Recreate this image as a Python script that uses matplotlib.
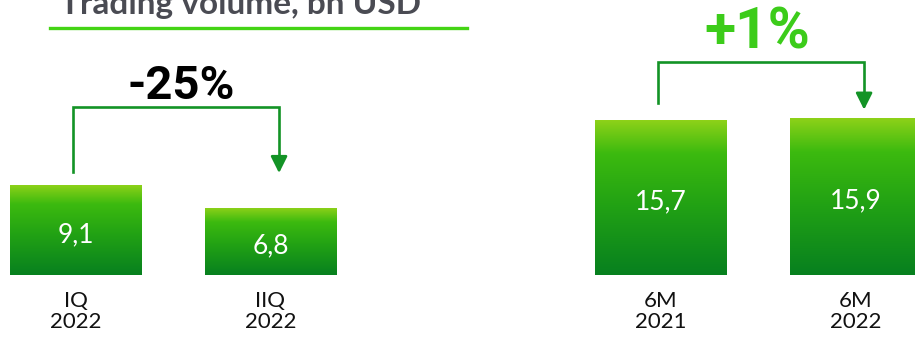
import numpy as np
import matplotlib.pyplot as plt
from matplotlib.colors import LinearSegmentedColormap
from matplotlib.lines import Line2D

categories = ["IQ\n2022", "IIQ\n2022", "6M\n2021", "6M\n2022"]
positions = [0, 1, 3, 4]
volumes = [9.1, 6.8, 15.7, 15.9]
value_labels = ["9,1", "6,8", "15,7", "15,9"]
changes = ["-25%", "+1%"]

bar_cmap = LinearSegmentedColormap.from_list(
    "bar", [(0.0, "#07801f"), (0.45, "#22a214"), (0.78, "#3cba0f"), (1.0, "#90d219")])
bracket_color = "#139326"

fig = plt.figure(figsize=(9.15, 3.39), dpi=100)
ax = fig.add_axes([0, 0, 1, 1])
ax.set_xlim(-0.387, 4.305)
ax.set_ylim(-6.46, 27.78)
ax.axis("off")

width = 0.672
grad = np.linspace(0, 1, 256).reshape(-1, 1)
bars = ax.bar(positions, volumes, width=width, color="none", edgecolor="none")
for bar, x, v, lab in zip(bars, positions, volumes, value_labels):
    im = ax.imshow(grad, cmap=bar_cmap, origin="lower", aspect="auto",
                   extent=(x - width / 2, x + width / 2, 0, v), zorder=2)
    im.set_clip_path(bar)
    ax.text(x, v / 2 - 0.45, lab, ha="center", va="center", color="white",
            fontsize=19, family="Lato", zorder=3)

for x, cat in zip(positions, categories):
    ax.text(x, -1.6, cat, ha="center", va="top", fontsize=16, family="Lato",
            color="#111111", linespacing=1.1)


def bracket(i, j, top, start_gap, end_gap, label, label_dx, label_y, color, size):
    x0 = positions[i] - 0.013
    x1 = positions[j] + 0.044
    y0 = volumes[i] + start_gap
    y1 = volumes[j] + end_gap
    ax.plot([x0, x0, x1, x1], [y0, top, top, y1 + 1.2], color=bracket_color,
            lw=1.9, solid_joinstyle="miter", zorder=3)
    ax.annotate("", xy=(x1, y1), xytext=(x1, y1 + 1.5),
                arrowprops=dict(arrowstyle="-|>,head_length=1.0,head_width=0.5",
                                color=bracket_color, lw=1.9, shrinkA=0, shrinkB=0))
    ax.text((positions[i] + positions[j]) / 2 + label_dx, label_y, label, ha="center",
            va="baseline", fontsize=size, fontweight="bold", family="Roboto", color=color)


bracket(0, 1, 17.0, 1.3, 3.5, changes[0], 0.04, 17.75, "#000000", 34)
bracket(2, 3, 21.5, 1.7, 0.8, changes[1], -0.005, 22.9, "#3ccc1a", 41)

fig.text(60 / 915, 1 - 14 / 339, "Trading volume, bn USD", ha="left", va="baseline",
         fontsize=24, fontweight="bold", family="Lato", color="#4a4b53")
fig.add_artist(Line2D([50 / 915, 467 / 915], [1 - 28 / 339, 1 - 28 / 339],
                      color="#44d414", lw=2.4, transform=fig.transFigure))

fig.savefig("out.png", dpi=100)
